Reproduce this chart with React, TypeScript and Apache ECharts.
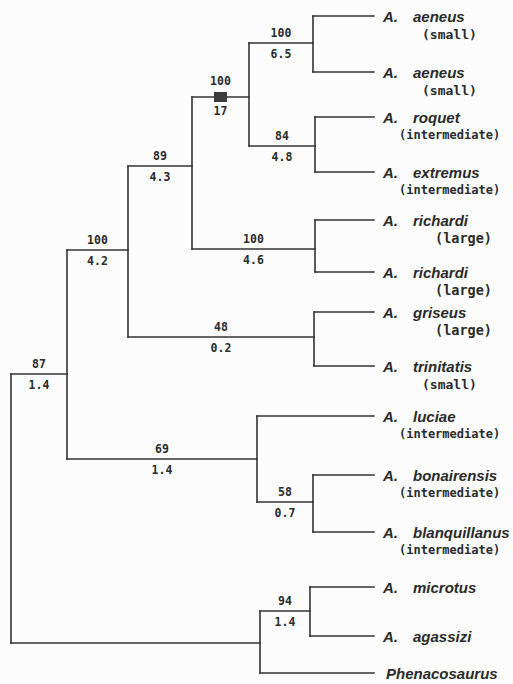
import React, { useEffect, useRef } from "react";
import * as echarts from "echarts";

// ---------- Tree data ----------
// Internal nodes: id, parent, depth (x, abstract units), row (y, abstract units)
const nodeIds = ["root", "n87", "n100a", "n89", "n100b", "n100d", "n84", "n100c", "n48", "n69", "n58", "nP", "n94"];
const nodeParents = [null, "root", "n87", "n100a", "n89", "n100b", "n100b", "n89", "n100a", "n87", "n69", "root", "n94x"];
const nodeDepth = [1.1, 6.7, 12.8, 19.2, 24.9, 31.3, 31.5, 31.5, 31.4, 25.7, 31.3, 26.0, 31.0];
const nodeRow = [50.8, 37.4, 25.0, 16.6, 9.7, 4.3, 14.6, 24.9, 33.7, 45.9, 50.2, 64.3, 61.1];
// bootstrap support (above branch) and decay index (below branch)
const nodeSupport = ["", "87", "100", "89", "100", "100", "84", "100", "48", "69", "58", "", "94"];
const nodeDecay = ["", "1.4", "4.2", "4.3", "17", "6.5", "4.8", "4.6", "0.2", "1.4", "0.7", "", "1.4"];
const markedNodes = ["n100b"];

// Terminal taxa
const leafGenus = ["A.", "A.", "A.", "A.", "A.", "A.", "A.", "A.", "A.", "A.", "A.", "A.", "A.", ""];
const leafNames = ["aeneus", "aeneus", "roquet", "extremus", "richardi", "richardi", "griseus", "trinitatis", "luciae", "bonairensis", "blanquillanus", "microtus", "agassizi", "Phenacosaurus"];
const leafNotes = ["(small)", "(small)", "(intermediate)", "(intermediate)", "(large)", "(large)", "(large)", "(small)", "(intermediate)", "(intermediate)", "(intermediate)", "", "", ""];
const leafParents = ["n100d", "n100d", "n84", "n84", "n100c", "n100c", "n48", "n48", "n69", "n58", "n58", "n94", "n94", "nP"];
const leafRows = [1.6, 7.2, 11.7, 17.2, 22.0, 27.2, 31.2, 36.6, 41.6, 47.5, 53.2, 58.7, 63.6, 67.3];
const leafDepth = 37.4;

// fix: n94's parent is nP
nodeParents[12] = "nP";

// ---------- styles ----------
const LINE = "#333333";
const TEXT = "#2a2a2a";
const NUM_FONT = "'DejaVu Sans Mono', monospace";
const NAME_FONT = "'Liberation Sans', Arial, sans-serif";
const noteOffset: Record<string, number> = { "(small)": 48, "(large)": 61, "(intermediate)": 25 };
const noteSize: Record<string, number> = { "(small)": 13, "(large)": 13.5, "(intermediate)": 12 };

type Item = {
  kind: "node" | "leaf";
  x: number;
  y: number;
  px: number | null;
  minY: number;
  maxY: number;
  support: string;
  decay: string;
  marked: boolean;
  genus: string;
  name: string;
  note: string;
};

function buildItems(): Item[] {
  const idx: Record<string, number> = {};
  nodeIds.forEach((id, i) => (idx[id] = i));
  const childRows: number[][] = nodeIds.map(() => []);
  nodeParents.forEach((p, i) => {
    if (p != null) childRows[idx[p]].push(nodeRow[i]);
  });
  leafParents.forEach((p, i) => childRows[idx[p]].push(leafRows[i]));
  const items: Item[] = [];
  nodeIds.forEach((id, i) => {
    const p = nodeParents[i];
    items.push({
      kind: "node",
      x: nodeDepth[i],
      y: nodeRow[i],
      px: p == null ? null : nodeDepth[idx[p]],
      minY: Math.min(...childRows[i]),
      maxY: Math.max(...childRows[i]),
      support: nodeSupport[i],
      decay: nodeDecay[i],
      marked: markedNodes.includes(id),
      genus: "",
      name: "",
      note: "",
    });
  });
  leafNames.forEach((name, i) => {
    items.push({
      kind: "leaf",
      x: leafDepth,
      y: leafRows[i],
      px: nodeDepth[idx[leafParents[i]]],
      minY: leafRows[i],
      maxY: leafRows[i],
      support: "",
      decay: "",
      marked: false,
      genus: leafGenus[i],
      name,
      note: leafNotes[i],
    });
  });
  return items;
}

export default function App() {
  const ref = useRef<HTMLDivElement>(null);
  useEffect(() => {
    if (!ref.current) return;
    const chart = echarts.init(ref.current, undefined, { renderer: "svg" });
    const items = buildItems();
    const lineStyle = { stroke: LINE, lineWidth: 1.6, lineCap: "square" as const };
    chart.setOption({
      animation: false,
      backgroundColor: "#fcfcfc",
      grid: { left: 0, right: 0, top: 0, bottom: 0 },
      xAxis: { type: "value", min: 0, max: 51.3, show: false },
      yAxis: { type: "value", min: 0, max: 68.4, inverse: true, show: false },
      series: [
        {
          type: "custom",
          coordinateSystem: "cartesian2d",
          silent: true,
          data: items.map((it) => [it.x, it.y, it.px == null ? it.x : it.px, it.minY, it.maxY]),
          renderItem: (params: any, api: any) => {
            const it = items[params.dataIndex];
            const p = api.coord([api.value(0), api.value(1)]);
            const pp = api.coord([api.value(2), api.value(1)]);
            const children: any[] = [];
            if (it.px != null) {
              children.push({ type: "line", shape: { x1: pp[0], y1: p[1], x2: p[0], y2: p[1] }, style: lineStyle });
            }
            if (it.kind === "node") {
              const a = api.coord([api.value(0), api.value(3)]);
              const b = api.coord([api.value(0), api.value(4)]);
              children.push({ type: "line", shape: { x1: p[0], y1: a[1], x2: p[0], y2: b[1] }, style: lineStyle });
              const mx = (pp[0] + p[0]) / 2;
              if (it.marked) {
                children.push({ type: "rect", shape: { x: mx - 6.5, y: p[1] - 5, width: 13, height: 10 }, style: { fill: "#3c3c3c" } });
              }
              const up = it.marked ? 16 : 10.5;
              const down = it.marked ? 14 : 11;
              if (it.support) {
                children.push({
                  type: "text",
                  style: { text: it.support, x: mx, y: p[1] - up, align: "center", verticalAlign: "middle", font: `bold 11.5px ${NUM_FONT}`, fill: TEXT },
                });
              }
              if (it.decay) {
                children.push({
                  type: "text",
                  style: { text: it.decay, x: mx, y: p[1] + down, align: "center", verticalAlign: "middle", font: `bold 11.5px ${NUM_FONT}`, fill: TEXT },
                });
              }
            } else {
              if (it.genus) {
                children.push({
                  type: "text",
                  style: { text: it.genus, x: p[0] + 9, y: p[1], align: "left", verticalAlign: "middle", font: `italic bold 15px ${NAME_FONT}`, fill: TEXT },
                });
                children.push({
                  type: "text",
                  style: { text: it.name, x: p[0] + 39, y: p[1], align: "left", verticalAlign: "middle", font: `italic bold 15px ${NAME_FONT}`, fill: TEXT },
                });
              } else {
                children.push({
                  type: "text",
                  style: { text: it.name, x: p[0] + 12, y: p[1], align: "left", verticalAlign: "middle", font: `italic bold 15px ${NAME_FONT}`, fill: TEXT },
                });
              }
              if (it.note) {
                children.push({
                  type: "text",
                  style: {
                    text: it.note,
                    x: p[0] + (noteOffset[it.note] ?? 30),
                    y: p[1] + 18,
                    align: "left",
                    verticalAlign: "middle",
                    font: `bold ${noteSize[it.note] ?? 12}px ${NUM_FONT}`,
                    fill: TEXT,
                  },
                });
              }
            }
            return { type: "group", children };
          },
        },
      ],
    });
    return () => chart.dispose();
  }, []);
  return <div ref={ref} style={{ position: "absolute", left: 0, top: 0, width: 513, height: 684 }} />;
}
